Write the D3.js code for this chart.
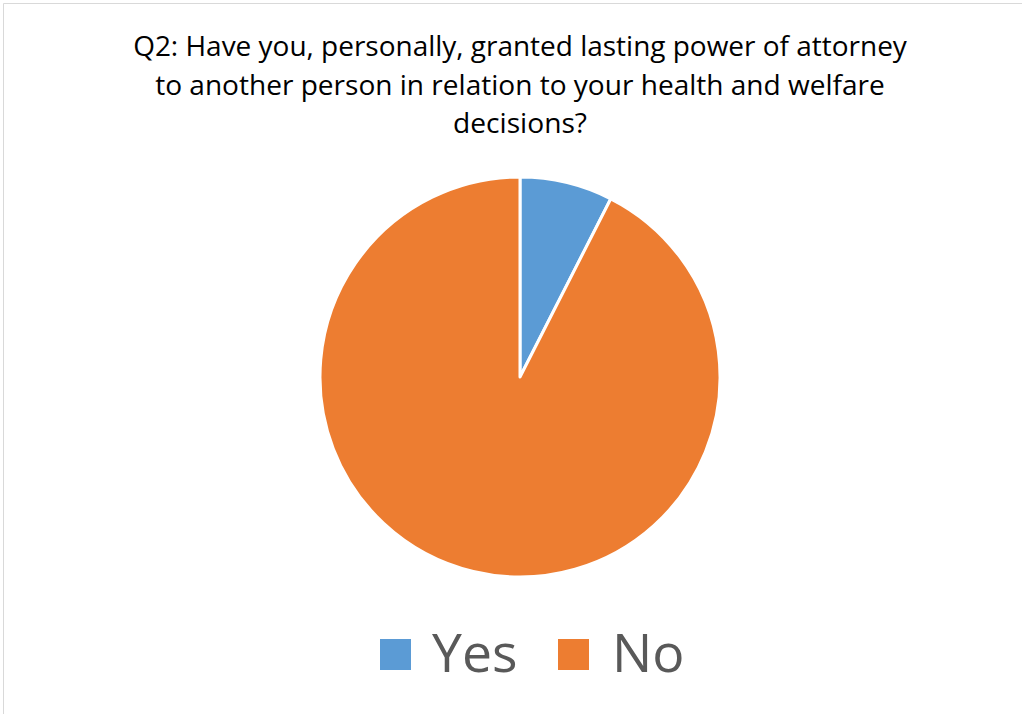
<!DOCTYPE html>
<html>
<head>
<meta charset="utf-8">
<script src="https://cdn.jsdelivr.net/npm/d3@7"></script>
<style>
  html, body { margin: 0; padding: 0; background: #fff; }
  svg { display: block; }
</style>
</head>
<body>
<svg id="chart" width="1022" height="714"></svg>
<script>
// Survey answers (percent of respondents)
const categories = ["Yes", "No"];
const values = [7.5, 92.5];
const colors = ["#5b9bd5", "#ed7d31"];
const titleLines = [
  "Q2: Have you, personally, granted lasting power of attorney",
  "to another person in relation to your health and welfare",
  "decisions?"
];

const svg = d3.select("#chart");
const W = 1022, H = 714;
const font = "'Open Sans', 'Liberation Sans', sans-serif";

// chart area frame (open on the right and bottom edges)
svg.append("path")
  .attr("d", `M3.5,${H} V3.5 H${W}`)
  .attr("fill", "none")
  .attr("stroke", "#d9d9d9")
  .attr("stroke-width", 1);

// title
const titleWidths = [774, 730, 134];
const title = svg.append("g");
titleLines.forEach((t, i) => {
  const tx = title.append("text")
    .attr("x", 520)
    .attr("y", 56 + i * 38.5)
    .attr("text-anchor", "middle")
    .attr("font-family", font)
    .attr("font-size", 24)
    .attr("fill", "#000")
    .text(t);
  // fit the line to its set width
  const len = tx.node().getComputedTextLength();
  tx.attr("font-size", 24 * titleWidths[i] / len);
});

// pie
const cx = 520, cy = 377, r = 200;
const pie = d3.pie().sort(null).value(d => d.v);
const arc = d3.arc().innerRadius(0).outerRadius(r);
const data = categories.map((c, i) => ({ c, v: values[i], color: colors[i] }));

svg.append("g")
  .attr("transform", `translate(${cx},${cy})`)
  .selectAll("path")
  .data(pie(data))
  .join("path")
  .attr("d", arc)
  .attr("fill", d => d.data.color)
  .attr("stroke", "#fff")
  .attr("stroke-width", 3)
  .attr("stroke-linejoin", "round");

// legend
const legendItems = [
  { x: 380, textX: 432 },
  { x: 558, textX: 612 }
];
const legend = svg.append("g");
data.forEach((d, i) => {
  legend.append("rect")
    .attr("x", legendItems[i].x)
    .attr("y", 639)
    .attr("width", 31)
    .attr("height", 31)
    .attr("fill", d.color);
  legend.append("text")
    .attr("x", legendItems[i].textX)
    .attr("y", 672)
    .attr("font-family", font)
    .attr("font-size", 53.5)
    .attr("fill", "#595959")
    .text(d.c);
});
</script>
</body>
</html>
